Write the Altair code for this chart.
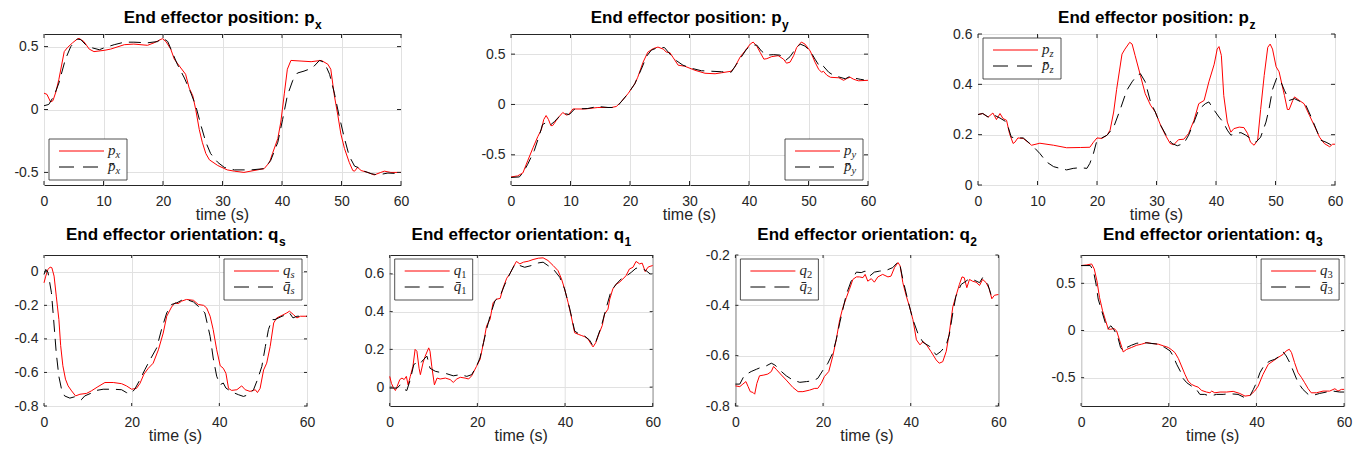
import altair as alt
import pandas as pd

# ---------------- data (time s, value) ----------------
PX_RED = [(0, 0.13), (0.5, 0.12), (1.1, 0.06), (1.5, 0.07), (2.0, 0.14), (2.5, 0.24), (3.4, 0.46), (3.9, 0.49),
          (4.8, 0.53), (5.6, 0.56), (5.9, 0.565), (6.7, 0.54), (7.6, 0.48), (8.4, 0.46), (10.1, 0.47),
          (11.2, 0.48), (13.5, 0.515), (15.1, 0.52), (17.4, 0.51), (18.5, 0.53), (19.9, 0.563), (20.5, 0.54),
          (21.3, 0.48), (21.9, 0.40), (23.0, 0.33), (23.8, 0.28), (24.4, 0.17), (25.0, 0.11), (25.5, 0.0),
          (26.1, -0.16), (26.6, -0.26), (27.2, -0.35), (27.8, -0.40), (29.2, -0.445), (30.8, -0.48),
          (32.0, -0.49), (33.6, -0.50), (35.3, -0.485), (37.0, -0.47), (37.9, -0.42), (38.4, -0.35),
          (39.3, -0.23), (39.8, -0.10), (40.4, 0.13), (40.9, 0.32), (41.5, 0.39), (43.2, 0.385), (44.9, 0.38),
          (46.6, 0.39), (47.7, 0.36), (48.2, 0.32), (48.8, 0.11), (49.4, -0.05), (49.9, -0.195), (50.5, -0.31),
          (51.3, -0.42), (51.9, -0.485), (52.2, -0.49), (52.7, -0.46), (53.3, -0.485), (54.4, -0.50),
          (55.5, -0.52), (56.6, -0.50), (57.2, -0.49), (58.3, -0.50), (60, -0.50)]
PX_REF = [(0, 0.03), (0.8, 0.04), (1.7, 0.11), (2.5, 0.21), (3.6, 0.40), (4.5, 0.50), (5.6, 0.56), (6.2, 0.555),
          (7.0, 0.515), (8.1, 0.49), (9.3, 0.475), (10.1, 0.49), (11.8, 0.515), (13.5, 0.535), (15.1, 0.535),
          (17.4, 0.53), (19.1, 0.54), (19.9, 0.57), (20.8, 0.54), (21.6, 0.45), (22.4, 0.36), (23.6, 0.25),
          (24.7, 0.13), (25.5, 0.03), (26.4, -0.13), (27.2, -0.26), (28.0, -0.35), (29.2, -0.42), (30.3, -0.46),
          (32.0, -0.48), (34.8, -0.48), (37.0, -0.47), (38.1, -0.405), (39.3, -0.26), (40.1, -0.08),
          (40.9, 0.11), (41.8, 0.23), (42.6, 0.29), (43.7, 0.305), (45.1, 0.33), (46.3, 0.39), (47.1, 0.375),
          (48.0, 0.28), (48.8, 0.13), (49.6, -0.05), (50.5, -0.23), (51.3, -0.37), (52.2, -0.45), (53.0, -0.465),
          (53.8, -0.49), (55.0, -0.51), (56.1, -0.52), (57.8, -0.505), (60, -0.51)]

PY_RED = [(0, -0.72), (1.1, -0.71), (2.0, -0.68), (2.8, -0.56), (3.7, -0.43), (4.5, -0.32), (5.1, -0.25),
          (5.5, -0.15), (5.9, -0.11), (6.3, -0.15), (6.7, -0.21), (7.0, -0.21), (7.6, -0.16), (8.1, -0.12),
          (8.7, -0.08), (9.3, -0.105), (9.7, -0.10), (10.4, -0.045), (12.4, -0.045), (14.6, -0.03),
          (16.9, -0.03), (17.7, -0.02), (18.5, 0.025), (19.7, 0.11), (20.8, 0.205), (21.3, 0.27), (22.2, 0.42),
          (23.0, 0.52), (23.9, 0.555), (24.7, 0.57), (25.6, 0.55), (26.1, 0.52), (26.7, 0.515), (27.2, 0.47),
          (28.1, 0.39), (29.2, 0.38), (30.9, 0.34), (32.6, 0.31), (34.3, 0.305), (35.4, 0.315), (37.0, 0.33),
          (37.6, 0.37), (38.5, 0.47), (39.3, 0.53), (40.2, 0.60), (40.7, 0.62), (41.3, 0.58), (41.9, 0.515),
          (42.5, 0.45), (43.0, 0.455), (43.8, 0.475), (44.9, 0.485), (45.8, 0.45), (46.3, 0.41), (46.9, 0.42),
          (47.5, 0.485), (48.0, 0.565), (48.8, 0.62), (49.4, 0.60), (50.3, 0.53), (51.1, 0.42), (51.7, 0.35),
          (52.2, 0.32), (52.5, 0.33), (53.1, 0.29), (53.7, 0.27), (55.1, 0.265), (55.9, 0.24), (56.5, 0.26),
          (57.0, 0.27), (57.6, 0.25), (58.4, 0.235), (60, 0.24)]
PY_REF = [(0, -0.725), (1.4, -0.72), (2.0, -0.68), (2.8, -0.595), (3.9, -0.46), (4.8, -0.30), (5.3, -0.20),
          (6.2, -0.17), (6.7, -0.20), (7.3, -0.17), (8.1, -0.12), (9.0, -0.09), (9.8, -0.10), (10.7, -0.045),
          (12.9, -0.04), (14.6, -0.02), (16.3, -0.03), (17.7, -0.03), (18.5, 0.025), (19.7, 0.11), (20.8, 0.205),
          (21.9, 0.35), (22.8, 0.48), (23.6, 0.54), (24.7, 0.565), (25.8, 0.565), (27.0, 0.48), (27.8, 0.435),
          (28.9, 0.39), (30.3, 0.36), (32.0, 0.335), (33.7, 0.33), (35.4, 0.325), (37.0, 0.32), (37.9, 0.40),
          (38.8, 0.48), (39.6, 0.55), (40.4, 0.59), (41.3, 0.59), (42.1, 0.53), (43.0, 0.49), (44.1, 0.495),
          (45.2, 0.49), (46.1, 0.435), (46.9, 0.475), (47.8, 0.55), (48.6, 0.60), (49.4, 0.58), (50.3, 0.53),
          (51.1, 0.45), (52.0, 0.365), (52.5, 0.38), (53.4, 0.32), (54.2, 0.29), (55.3, 0.27), (56.2, 0.255),
          (57.0, 0.28), (57.9, 0.26), (58.7, 0.25), (59.3, 0.245)]

PZ_RED = [(0, 0.28), (0.8, 0.284), (1.7, 0.27), (2.5, 0.286), (3.1, 0.26), (3.7, 0.284), (4.2, 0.264),
          (4.8, 0.257), (5.3, 0.204), (5.9, 0.165), (6.2, 0.17), (6.7, 0.187), (7.6, 0.185), (8.4, 0.17),
          (9.0, 0.158), (10.4, 0.166), (12.7, 0.158), (14.9, 0.148), (17.2, 0.149), (18.8, 0.15), (19.4, 0.17),
          (20.0, 0.187), (20.8, 0.185), (21.7, 0.198), (22.2, 0.218), (22.8, 0.29), (23.3, 0.38), (24.2, 0.52),
          (24.7, 0.54), (25.5, 0.567), (25.9, 0.56), (26.4, 0.515), (27.3, 0.435), (28.1, 0.363), (29.0, 0.317),
          (29.8, 0.29), (30.7, 0.237), (31.5, 0.198), (32.3, 0.165), (32.9, 0.16), (33.7, 0.18), (34.6, 0.182),
          (35.4, 0.205), (36.3, 0.257), (37.1, 0.323), (38.0, 0.336), (38.8, 0.41), (39.7, 0.48), (40.2, 0.54),
          (40.5, 0.55), (40.9, 0.515), (41.3, 0.356), (41.9, 0.25), (42.5, 0.21), (43.0, 0.224), (43.9, 0.23),
          (44.7, 0.228), (45.3, 0.205), (45.8, 0.17), (46.4, 0.158), (47.0, 0.178), (47.5, 0.30), (48.1, 0.435),
          (48.7, 0.547), (49.1, 0.56), (49.5, 0.54), (50.1, 0.47), (50.6, 0.45), (51.5, 0.356), (52.0, 0.30),
          (52.3, 0.30), (52.9, 0.336), (53.2, 0.35), (54.0, 0.336), (54.8, 0.323), (55.7, 0.277), (56.5, 0.237),
          (57.4, 0.19), (58.2, 0.165), (59.1, 0.152), (59.6, 0.162), (60, 0.162)]
PZ_REF = [(0, 0.28), (0.8, 0.284), (1.7, 0.27), (2.5, 0.28), (3.7, 0.266), (4.8, 0.25), (5.6, 0.19), (6.5, 0.187),
          (7.6, 0.187), (8.7, 0.165), (9.6, 0.145), (10.4, 0.125), (11.5, 0.092), (12.7, 0.073), (13.8, 0.066),
          (14.9, 0.06), (16.0, 0.066), (17.2, 0.069), (18.3, 0.066), (18.8, 0.086), (19.4, 0.125), (20.0, 0.178),
          (20.8, 0.187), (21.7, 0.198), (22.8, 0.23), (23.9, 0.30), (25.0, 0.376), (25.9, 0.41), (26.7, 0.435),
          (27.3, 0.442), (28.1, 0.41), (29.0, 0.33), (29.8, 0.29), (30.7, 0.237), (31.8, 0.19), (32.6, 0.165),
          (33.5, 0.156), (34.6, 0.165), (35.4, 0.198), (36.3, 0.25), (37.1, 0.30), (38.2, 0.323), (38.8, 0.33),
          (39.7, 0.297), (40.5, 0.27), (41.2, 0.25), (41.9, 0.218), (42.5, 0.198), (43.3, 0.205), (44.2, 0.208),
          (45.0, 0.198), (45.8, 0.185), (46.7, 0.17), (47.5, 0.19), (48.4, 0.25), (48.9, 0.30), (49.5, 0.38),
          (50.2, 0.425), (50.9, 0.41), (51.5, 0.376), (52.3, 0.336), (53.2, 0.343), (54.3, 0.33), (55.1, 0.317),
          (56.0, 0.27), (56.8, 0.224), (57.6, 0.178), (58.5, 0.17), (59.3, 0.16)]

QS_RED = [(0, -0.066), (0.4, -0.026), (0.9, 0.014), (1.4, 0.028), (1.8, 0.024), (2.3, -0.026), (2.8, -0.145),
          (3.4, -0.285), (3.8, -0.44), (4.3, -0.56), (4.9, -0.64), (5.5, -0.68), (6.3, -0.71), (7.2, -0.74),
          (8.2, -0.73), (9.7, -0.725), (10.8, -0.71), (12.3, -0.685), (13.9, -0.66), (15.8, -0.66),
          (17.7, -0.667), (18.8, -0.68), (20.0, -0.70), (21.1, -0.695), (21.9, -0.665), (22.8, -0.61),
          (23.8, -0.575), (24.9, -0.545), (26.1, -0.465), (27.2, -0.365), (28.0, -0.265), (29.1, -0.21),
          (29.9, -0.185), (30.6, -0.19), (31.4, -0.175), (32.5, -0.165), (34.1, -0.17), (35.2, -0.195),
          (36.4, -0.20), (37.1, -0.215), (37.9, -0.265), (38.6, -0.345), (39.4, -0.465), (40.2, -0.56),
          (40.9, -0.575), (41.5, -0.605), (42.1, -0.695), (42.8, -0.707), (44.0, -0.703), (45.1, -0.68),
          (45.9, -0.703), (47.0, -0.713), (48.2, -0.703), (48.7, -0.72), (49.3, -0.695), (50.1, -0.585),
          (50.8, -0.545), (51.6, -0.445), (52.4, -0.305), (53.1, -0.275), (54.3, -0.26), (55.4, -0.245),
          (56.0, -0.235), (56.9, -0.255), (57.7, -0.275), (58.5, -0.265), (60, -0.265)]
QS_REF = [(0, -0.016), (0.4, 0.014), (0.9, -0.002), (1.7, -0.125), (2.2, -0.285), (2.8, -0.485), (3.4, -0.625),
          (4.0, -0.70), (4.7, -0.74), (5.9, -0.753), (7.0, -0.745), (7.8, -0.75), (8.5, -0.763), (9.3, -0.74),
          (10.8, -0.723), (12.0, -0.707), (13.5, -0.70), (15.8, -0.70), (17.7, -0.703), (18.8, -0.72),
          (19.8, -0.727), (20.7, -0.70), (21.9, -0.643), (23.0, -0.584), (24.2, -0.524), (25.7, -0.454),
          (26.8, -0.345), (28.0, -0.245), (29.1, -0.195), (30.3, -0.185), (31.4, -0.17), (32.5, -0.165),
          (34.1, -0.18), (35.6, -0.215), (36.7, -0.245), (37.9, -0.385), (38.6, -0.514), (39.4, -0.623),
          (40.2, -0.673), (40.9, -0.663), (41.5, -0.693), (42.3, -0.707), (43.2, -0.72), (44.4, -0.733),
          (45.5, -0.743), (46.6, -0.733), (47.8, -0.703), (48.7, -0.643), (49.7, -0.564), (50.5, -0.445),
          (51.2, -0.345), (52.0, -0.285), (52.7, -0.285), (54.3, -0.265), (55.4, -0.255), (56.0, -0.245),
          (56.8, -0.275), (57.7, -0.265), (60, -0.265)]

Q1_RED = [(0, 0.057), (0.4, 0.02), (0.9, -0.005), (1.3, -0.018), (1.7, 0.004), (2.3, 0.04), (2.8, 0.048),
          (3.3, 0.04), (3.8, 0.057), (4.2, 0.012), (4.7, 0.057), (5.3, 0.11), (5.8, 0.20), (6.2, 0.19),
          (6.7, 0.10), (7.0, 0.066), (7.6, 0.128), (8.1, 0.164), (8.9, 0.208), (9.2, 0.19), (9.6, 0.11),
          (10.2, 0.012), (10.8, 0.048), (11.5, 0.043), (12.7, 0.048), (13.8, 0.04), (14.5, 0.025), (15.3, 0.043),
          (16.1, 0.052), (17.2, 0.048), (18.0, 0.043), (18.7, 0.06), (19.8, 0.11), (20.6, 0.146), (21.4, 0.235),
          (22.1, 0.324), (22.9, 0.36), (23.6, 0.448), (24.4, 0.466), (25.2, 0.47), (25.9, 0.528), (26.7, 0.577),
          (27.4, 0.60), (28.2, 0.636), (28.9, 0.666), (29.7, 0.653), (30.5, 0.662), (31.6, 0.667), (32.7, 0.676),
          (33.9, 0.683), (35.0, 0.685), (36.1, 0.671), (37.3, 0.644), (38.4, 0.617), (39.2, 0.573), (39.9, 0.52),
          (40.7, 0.448), (41.4, 0.377), (42.2, 0.288), (43.0, 0.28), (43.7, 0.274), (44.5, 0.267), (45.2, 0.256),
          (46.0, 0.226), (46.4, 0.213), (47.0, 0.235), (47.7, 0.28), (48.5, 0.327), (49.0, 0.386), (49.8, 0.413),
          (50.2, 0.466), (50.9, 0.52), (51.7, 0.546), (52.4, 0.555), (53.2, 0.573), (53.9, 0.59), (54.7, 0.626),
          (55.5, 0.635), (56.2, 0.666), (57.0, 0.653), (57.6, 0.657), (58.3, 0.612), (58.9, 0.635), (59.4, 0.64),
          (60, 0.644)]
Q1_REF = [(0, -0.005), (0.9, -0.005), (1.7, -0.005), (2.4, 0.012), (3.1, -0.01), (3.9, -0.018), (4.7, 0.04),
          (5.5, 0.12), (6.1, 0.128), (6.8, 0.12), (7.7, 0.146), (8.5, 0.164), (8.9, 0.128), (9.2, 0.10),
          (10.4, 0.084), (11.5, 0.078), (13.0, 0.071), (14.5, 0.06), (16.1, 0.066), (17.6, 0.057), (18.7, 0.066),
          (19.8, 0.11), (20.6, 0.155), (21.4, 0.235), (22.1, 0.306), (22.9, 0.377), (24.0, 0.457), (25.2, 0.484),
          (26.3, 0.546), (27.4, 0.60), (28.6, 0.653), (29.7, 0.644), (30.8, 0.635), (32.3, 0.644), (33.9, 0.658),
          (35.0, 0.662), (36.1, 0.644), (37.3, 0.626), (38.8, 0.582), (39.9, 0.52), (41.1, 0.413), (42.2, 0.297),
          (43.3, 0.28), (44.5, 0.27), (45.6, 0.249), (46.4, 0.217), (47.1, 0.244), (48.3, 0.324), (49.4, 0.42),
          (50.5, 0.51), (51.7, 0.546), (52.8, 0.573), (53.9, 0.587), (55.1, 0.608), (56.2, 0.63), (57.3, 0.63),
          (58.5, 0.617), (59.4, 0.60)]

Q2_RED = [(0, -0.72), (1.0, -0.723), (1.7, -0.713), (2.4, -0.703), (2.9, -0.723), (3.4, -0.743), (4.0, -0.746),
          (4.4, -0.753), (4.9, -0.71), (5.5, -0.68), (6.5, -0.677), (7.4, -0.673), (8.2, -0.663), (8.7, -0.643),
          (9.3, -0.654), (10.5, -0.677), (11.6, -0.697), (13.1, -0.726), (14.3, -0.743), (15.4, -0.743),
          (16.9, -0.737), (18.1, -0.73), (18.8, -0.73), (19.6, -0.71), (20.3, -0.683), (21.3, -0.663),
          (22.2, -0.603), (23.0, -0.537), (23.8, -0.457), (24.5, -0.41), (25.3, -0.37), (26.0, -0.337),
          (26.8, -0.297), (27.6, -0.287), (28.3, -0.287), (29.1, -0.29), (29.6, -0.277), (30.2, -0.304),
          (31.0, -0.294), (31.7, -0.308), (32.5, -0.287), (33.6, -0.277), (34.8, -0.287), (35.5, -0.284),
          (36.3, -0.25), (37.1, -0.23), (37.6, -0.244), (38.2, -0.31), (39.0, -0.364), (39.7, -0.404),
          (40.5, -0.457), (41.3, -0.537), (42.1, -0.557), (42.8, -0.544), (43.6, -0.557), (44.6, -0.583),
          (45.8, -0.617), (46.5, -0.63), (47.3, -0.624), (48.1, -0.583), (48.8, -0.51), (49.6, -0.406),
          (50.3, -0.364), (51.1, -0.317), (51.7, -0.287), (52.2, -0.29), (52.8, -0.33), (53.4, -0.297),
          (54.1, -0.304), (54.9, -0.308), (55.7, -0.321), (56.4, -0.297), (57.2, -0.31), (57.9, -0.334),
          (58.5, -0.374), (59.1, -0.36), (60, -0.357)]
Q2_REF = [(0, -0.713), (1.0, -0.713), (1.9, -0.683), (2.9, -0.67), (3.6, -0.663), (4.8, -0.654), (5.9, -0.646),
          (7.1, -0.64), (8.2, -0.63), (9.0, -0.637), (10.1, -0.657), (11.6, -0.68), (13.1, -0.697), (14.7, -0.706),
          (16.2, -0.703), (17.7, -0.70), (18.8, -0.69), (20.0, -0.657), (21.1, -0.63), (22.2, -0.59),
          (23.0, -0.537), (23.8, -0.47), (24.5, -0.417), (25.3, -0.357), (26.4, -0.304), (27.6, -0.268),
          (28.7, -0.27), (29.6, -0.264), (30.6, -0.284), (31.7, -0.268), (32.9, -0.264), (34.4, -0.261),
          (35.9, -0.25), (36.8, -0.233), (37.4, -0.228), (38.2, -0.297), (39.3, -0.377), (40.5, -0.457),
          (41.6, -0.51), (42.8, -0.547), (44.3, -0.563), (45.8, -0.597), (46.9, -0.583), (48.1, -0.557),
          (48.8, -0.517), (49.6, -0.43), (50.3, -0.364), (51.5, -0.317), (52.6, -0.304), (53.4, -0.294),
          (54.5, -0.30), (55.7, -0.31), (56.4, -0.29), (57.6, -0.317), (58.3, -0.357), (59.1, -0.35),
          (59.8, -0.353)]

Q3_RED = [(0, 0.688), (1.3, 0.695), (2.4, 0.705), (3.0, 0.652), (3.6, 0.528), (4.2, 0.351), (4.9, 0.209),
          (5.6, 0.103), (6.2, 0.014), (6.8, 0.014), (7.5, 0.021), (8.1, -0.004), (8.7, -0.092), (9.3, -0.18),
          (9.6, -0.227), (10.4, -0.20), (11.5, -0.18), (12.7, -0.156), (13.8, -0.145), (15.0, -0.128),
          (16.1, -0.138), (17.6, -0.145), (18.8, -0.163), (19.9, -0.18), (20.7, -0.206), (21.4, -0.234),
          (22.2, -0.298), (22.9, -0.376), (23.7, -0.465), (24.4, -0.535), (25.2, -0.571), (26.0, -0.589),
          (26.7, -0.60), (27.5, -0.635), (28.6, -0.652), (29.4, -0.66), (29.8, -0.642), (30.5, -0.66),
          (31.7, -0.652), (33.2, -0.652), (34.7, -0.645), (36.2, -0.667), (37.4, -0.695), (38.5, -0.688),
          (39.6, -0.642), (40.4, -0.589), (41.5, -0.465), (42.7, -0.358), (43.8, -0.323), (44.9, -0.287),
          (46.1, -0.252), (46.8, -0.216), (47.5, -0.199), (48.0, -0.234), (48.7, -0.34), (49.5, -0.447),
          (50.3, -0.50), (51.0, -0.553), (51.8, -0.617), (52.5, -0.66), (53.7, -0.66), (55.2, -0.642),
          (56.7, -0.642), (57.9, -0.617), (58.6, -0.642), (59.4, -0.624), (60, -0.624)]
Q3_REF = [(0, 0.688), (2.1, 0.688), (2.8, 0.635), (3.4, 0.493), (3.9, 0.333), (4.7, 0.209), (5.5, 0.085),
          (6.0, 0.014), (6.8, 0.05), (7.5, 0.007), (8.3, -0.057), (9.0, -0.18), (9.6, -0.216), (10.4, -0.18),
          (11.5, -0.156), (12.7, -0.135), (14.2, -0.128), (15.7, -0.135), (17.6, -0.145), (19.1, -0.18),
          (20.3, -0.216), (21.0, -0.27), (21.8, -0.358), (22.6, -0.429), (23.3, -0.51), (24.1, -0.553),
          (25.2, -0.589), (26.3, -0.624), (27.1, -0.677), (28.2, -0.677), (29.4, -0.695), (30.9, -0.677),
          (32.4, -0.677), (33.9, -0.67), (35.8, -0.677), (37.4, -0.713), (38.5, -0.695), (39.3, -0.624),
          (40.0, -0.553), (40.8, -0.447), (41.9, -0.358), (43.1, -0.323), (44.2, -0.305), (45.3, -0.27),
          (46.1, -0.227), (46.8, -0.27), (47.6, -0.34), (48.4, -0.429), (49.5, -0.553), (50.6, -0.624),
          (51.8, -0.677), (52.9, -0.688), (54.4, -0.667), (56.0, -0.652), (57.5, -0.642), (59.0, -0.652),
          (60, -0.652)]

X_TICKS_TOP = [0, 10, 20, 30, 40, 50, 60]
X_TICKS_BOTTOM = [0, 20, 40, 60]
Y_TICKS = {
    "px": [-0.5, 0, 0.5], "py": [-0.5, 0, 0.5], "pz": [0, 0.2, 0.4, 0.6],
    "qs": [-0.8, -0.6, -0.4, -0.2, 0], "q1": [0, 0.2, 0.4, 0.6],
    "q2": [-0.8, -0.6, -0.4, -0.2], "q3": [-0.5, 0, 0.5],
}
Y_DOMAINS = {
    "px": [-0.6, 0.6], "py": [-0.8, 0.7], "pz": [0, 0.6],
    "qs": [-0.8, 0.1], "q1": [-0.1, 0.7], "q2": [-0.8, -0.2], "q3": [-0.8, 0.8],
}
TITLES = {
    "px": ("End effector position: p", "x"), "py": ("End effector position: p", "y"),
    "pz": ("End effector position: p", "z"), "qs": ("End effector orientation: q", "s"),
    "q1": ("End effector orientation: q", "1"), "q2": ("End effector orientation: q", "2"),
    "q3": ("End effector orientation: q", "3"),
}
LEGEND_CORNER = {"px": "bl", "py": "br", "pz": "tl", "qs": "tr", "q1": "tl", "q2": "tl", "q3": "tr"}
X_LABEL = "time (s)"

# ---------------- style ----------------
SANS = "Liberation Sans"
SERIF = "Liberation Serif"
FRAME = "#262626"
RED = "#ff0000"
DASH = [12, 7]
LEG_DASH = [15, 9]
TITLE_FS = 17
SUB_FS = 12
# Arial/Liberation Sans Bold advance widths (per 1000 em) for centring the titles
BOLD_W = {' ': 278, ':': 333, 'E': 667, 'n': 611, 'd': 611, 'e': 556, 'f': 333, 'c': 556, 't': 333,
          'o': 611, 'r': 389, 'p': 611, 's': 556, 'i': 278, 'a': 556, 'q': 611, 'x': 556, 'y': 556,
          'z': 500, '1': 556, '2': 556, '3': 556}

NEG = "datum.value < 0 ? '-' + format(-datum.value, '') : format(datum.value, '')"
ONE = pd.DataFrame({"k": [0]})


def txt(x, y, s, **kw):
    return alt.Chart(ONE).mark_text(**kw).encode(x=alt.value(x), y=alt.value(y), text=alt.value(s))


def panel(key, red, ref, xticks, W, H, E, tick_len, title_dy):
    xs = alt.Scale(domain=[0, 60], nice=False, zero=False)
    ys = alt.Scale(domain=Y_DOMAINS[key], nice=False, zero=False)
    xax = alt.Axis(values=xticks, title=None, grid=True, tickSize=0, labelPadding=9, domain=False,
                   labelExpr=NEG, labelFlush=False)
    yax = alt.Axis(values=Y_TICKS[key], title=None, grid=True, tickSize=0, labelPadding=6, domain=False,
                   labelExpr=NEG, minExtent=E, maxExtent=E, labelFlush=False)

    def X(f="t:Q"):
        return alt.X(f, scale=xs, axis=xax)

    def Y(f="v:Q"):
        return alt.Y(f, scale=ys, axis=yax)

    red_df = pd.DataFrame(red, columns=["t", "v"])
    ref_df = pd.DataFrame(ref, columns=["t", "v"])
    layers = []
    layers.append(alt.Chart(red_df).mark_line(color=RED, strokeWidth=1).encode(x=X(), y=Y()))
    layers.append(alt.Chart(ref_df).mark_line(color="black", strokeWidth=1, strokeDash=DASH).encode(
        x=X(), y=Y()))

    # inward ticks on all four sides
    xt = pd.DataFrame({"t": xticks})
    yt = pd.DataFrame({"v": Y_TICKS[key]})
    for y0, y1 in ((H, H - tick_len), (0, tick_len)):
        layers.append(alt.Chart(xt).mark_rule(color=FRAME, strokeWidth=1).encode(
            x=X(), y=alt.value(y0), y2=alt.value(y1)))
    for x0, x1 in ((0, tick_len), (W - tick_len, W)):
        layers.append(alt.Chart(yt).mark_rule(color=FRAME, strokeWidth=1).encode(
            y=Y(), x=alt.value(x0), x2=alt.value(x1)))

    # legend box
    LW, LH = 78, 41
    corner = LEGEND_CORNER[key]
    bx = 5 if corner[1] == "l" else W - 5 - LW
    by = 4 if corner[0] == "t" else H - 5 - LH
    layers.append(alt.Chart(ONE).mark_rect(fill="white", stroke=FRAME, strokeWidth=0.8).encode(
        x=alt.value(bx), x2=alt.value(bx + LW), y=alt.value(by), y2=alt.value(by + LH)))
    layers.append(alt.Chart(ONE).mark_rule(color=RED, strokeWidth=1).encode(
        x=alt.value(bx + 10), x2=alt.value(bx + 55), y=alt.value(by + 12)))
    layers.append(alt.Chart(ONE).mark_rule(color="black", strokeWidth=1, strokeDash=LEG_DASH).encode(
        x=alt.value(bx + 10), x2=alt.value(bx + 55), y=alt.value(by + 28)))
    letter = TITLES[key][0][-1]
    sub = TITLES[key][1]
    sub_style = "normal" if sub.isdigit() else "italic"
    for row_y, sym in ((by + 12, letter), (by + 28, letter + "\u0304")):
        layers.append(txt(bx + 59, row_y + 4, sym, font=SERIF, fontSize=15, fontStyle="italic",
                          align="left", baseline="alphabetic", color="#262626"))
        layers.append(txt(bx + 66.5, row_y + 7, sub, font=SERIF, fontSize=10.5, fontStyle=sub_style,
                          align="left", baseline="alphabetic", color="#262626"))

    # title with subscript
    main, tsub = TITLES[key]
    w_main = sum(BOLD_W.get(c, 556) for c in main) * TITLE_FS / 1000
    w_sub = BOLD_W.get(tsub, 556) * SUB_FS / 1000
    x0 = W / 2 + (w_main - w_sub) / 2
    layers.append(txt(x0, title_dy, main, font=SANS, fontSize=TITLE_FS, fontWeight="bold",
                      align="right", baseline="alphabetic", color="black"))
    layers.append(txt(x0 + 0.5, title_dy + 5.5, tsub, font=SANS, fontSize=SUB_FS, fontWeight="bold",
                      align="left", baseline="alphabetic", color="black"))
    # x-axis label
    layers.append(txt(W / 2, H + 35, X_LABEL, font=SANS, fontSize=16, align="center",
                      baseline="alphabetic", color="#262626"))

    return alt.layer(*layers).properties(width=W, height=H)


top = alt.hconcat(
    panel("px", PX_RED, PX_REF, X_TICKS_TOP, 357, 151, 35, 4, -11),
    panel("py", PY_RED, PY_REF, X_TICKS_TOP, 357, 151, 35, 4, -11),
    panel("pz", PZ_RED, PZ_REF, X_TICKS_TOP, 357, 151, 35, 4, -11),
    spacing=110, bounds="flush",
)
bottom = alt.hconcat(
    panel("qs", QS_RED, QS_REF, X_TICKS_BOTTOM, 263, 151, 30, 3, -15),
    panel("q1", Q1_RED, Q1_REF, X_TICKS_BOTTOM, 263, 151, 30, 3, -15),
    panel("q2", Q2_RED, Q2_REF, X_TICKS_BOTTOM, 263, 151, 30, 3, -15),
    panel("q3", Q3_RED, Q3_REF, X_TICKS_BOTTOM, 263, 151, 30, 3, -15),
    spacing=82.7, bounds="flush",
)

chart = alt.vconcat(top, bottom, spacing=1).properties(
    padding={"left": 0, "top": 0, "right": 0, "bottom": 0}, background="white"
).configure_view(stroke=FRAME, strokeWidth=1).configure_axis(
    gridColor="#e1e1e1", gridWidth=1, labelFont=SANS, labelFontSize=14, labelColor="#262626"
)

chart.save("out.html", embed_options={"renderer": "svg", "actions": False})
